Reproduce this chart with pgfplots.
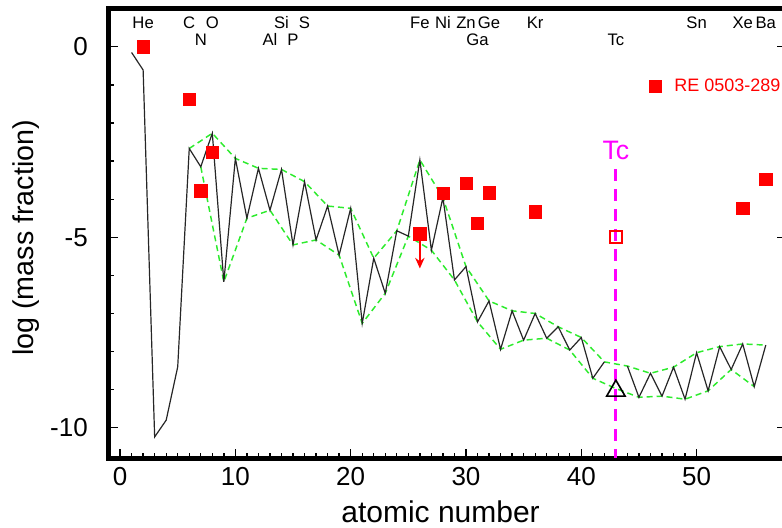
\documentclass[border=0pt]{standalone}
\usepackage{fontspec}
\setmainfont{Liberation Sans}
\usepackage{pgfplots}
\usepackage{pgfplotstable}
\pgfplotsset{compat=1.18}
\usetikzlibrary{arrows.meta}
\definecolor{mgreen}{RGB}{45,235,45}
\definecolor{mmag}{RGB}{255,0,255}
\pgfplotstableread{
Z y
1 -0.15
2 -0.61
3 -10.24
4 -9.8
5 -8.4
6 -2.67
7 -3.15
8 -2.27
9 -6.17
10 -2.93
11 -4.5
12 -3.19
13 -4.29
14 -3.22
15 -5.2
16 -3.54
17 -5.07
18 -4.18
19 -5.47
20 -4.24
21 -7.26
22 -5.55
23 -6.47
24 -4.83
25 -4.97
26 -2.97
27 -5.34
28 -3.96
29 -6.12
30 -5.77
31 -7.22
32 -6.67
33 -7.94
34 -6.93
35 -7.70
36 -7.0
37 -7.65
38 -7.35
39 -7.96
40 -7.63
41 -8.70
42 -8.27
43 nan
44 -8.38
45 -9.2
46 -8.57
47 -9.17
48 -8.41
49 -9.25
50 -8.03
51 -9.03
52 -7.87
53 -8.47
54 -7.80
55 -8.92
56 -7.83
}\modeltab
\pgfplotstableread{
Z y
6 -2.67
8 -2.27
10 -2.93
12 -3.19
14 -3.22
16 -3.54
18 -4.18
20 -4.24
22 -5.55
24 -4.83
26 -2.97
28 -3.96
30 -5.77
32 -6.67
34 -6.93
36 -7.0
38 -7.35
40 -7.63
42 -8.27
44 -8.38
46 -8.57
48 -8.41
50 -8.03
52 -7.87
54 -7.80
56 -7.83
}\upenvtab
\pgfplotstableread{
Z y
7 -3.15
9 -6.17
11 -4.5
13 -4.29
15 -5.2
17 -5.07
19 -5.47
21 -7.26
23 -6.47
25 -4.97
27 -5.34
29 -6.12
31 -7.22
33 -7.94
35 -7.70
37 -7.65
39 -7.96
41 -8.70
43 -8.97
45 -9.2
47 -9.17
49 -9.25
51 -9.03
53 -8.47
55 -8.92
}\lowenvtab
\pgfplotstableread{
Z y
2 0.0
6 -1.37
7 -3.78
8 -2.76
26 -4.91
28 -3.85
30 -3.59
31 -4.63
32 -3.83
36 -4.33
54 -4.23
56 -3.47
}\obstab
\begin{document}
\begin{tikzpicture}
\begin{axis}[
  scale only axis, width=508.5pt, height=337.2pt,
  xmin=-1, xmax=57.8, ymin=-10.8, ymax=1,
  axis line style={line width=3.5pt},
  xtick={0,10,20,30,40,50}, xticklabels={0,10,20,30,40,50},
  ytick={-10,-5,0}, yticklabels={-10,-5,0},
  minor x tick num=9, minor y tick num=4,
  xtick pos=bottom, ytick pos=both,
  tick align=inside,
  major tick length=7pt, minor tick length=3.75pt,
  every tick/.style={black, line width=1pt},
  tick label style={font=\fontsize{19.5}{20}\selectfont},
  xticklabel style={yshift=-3.5pt},
  yticklabel style={xshift=-12pt},
  xlabel={atomic number}, ylabel={log (mass fraction)},
  every axis x label/.style={at={(axis description cs:0.4897,-0.1194)}, anchor=center, font=\fontsize{22.5}{23}\selectfont},
  every axis y label/.style={at={(axis description cs:-0.121,0.49)}, anchor=center, rotate=90, font=\fontsize{21.5}{22}\selectfont},
  legend style={at={(axis cs:45.88,-1.03)}, anchor=west, draw=none, fill=none, inner sep=0pt,
    font=\fontsize{13.5}{14}\selectfont, text=red, cells={anchor=west}},
  clip=false,
]
\coordinate (ll) at (rel axis cs:0,0);
% model envelopes
\addplot[mgreen, line width=1.1pt, dash pattern=on 4.5pt off 3pt, forget plot] table[x=Z,y=y] {\upenvtab};
\addplot[mgreen, line width=1.1pt, dash pattern=on 4.5pt off 3pt, forget plot] table[x=Z,y=y] {\lowenvtab};
% model
\addplot[black!85, line width=0.9pt, unbounded coords=jump, forget plot] table[x=Z,y=y] {\modeltab};
% Tc line
\addplot[mmag, line width=2.2pt, dash pattern=on 9pt off 6pt, forget plot] coordinates {(43,-3.22) (43,-10.8)};
% Tc model value
\addplot[only marks, mark=triangle, mark size=8pt, black, mark options={line width=1.2pt}, forget plot] coordinates {(43,-9.03)};
% Fe upper limit arrow
\addplot[red, line width=1.5pt, -{Stealth[length=8pt,width=7pt]}, forget plot] coordinates {(26,-4.91) (26,-5.82)};
% Tc observed
\addplot[only marks, mark=square, mark size=4.6pt, red, mark options={line width=1.5pt}, forget plot] coordinates {(43,-5.0)};
% observed
\addplot[only marks, mark=square*, mark size=4.6pt, red, mark options={fill=red, draw=red},
  legend image code/.code={\draw[mark repeat=2,mark phase=2] plot coordinates {(0pt,0pt)(6pt,0pt)(12pt,0pt)};}]
  table[x=Z,y=y] {\obstab};
\addlegendentry{\hspace{7.5pt}RE 0503-289}
% element labels
\begin{scope}[font=\fontsize{12.5}{13}\selectfont, every node/.style={anchor=base, inner sep=0pt}]
\node at (axis cs:2,0.483) {He};
\node at (axis cs:6,0.483) {C};
\node at (axis cs:8,0.483) {O};
\node at (axis cs:14,0.483) {Si};
\node at (axis cs:16,0.483) {S};
\node at (axis cs:26,0.483) {Fe};
\node at (axis cs:28,0.483) {Ni};
\node at (axis cs:30,0.483) {Zn};
\node at (axis cs:32,0.483) {Ge};
\node at (axis cs:36,0.483) {Kr};
\node at (axis cs:50,0.483) {Sn};
\node at (axis cs:54,0.483) {Xe};
\node at (axis cs:56,0.483) {Ba};
\node at (axis cs:7,0.045) {N};
\node at (axis cs:13,0.045) {Al};
\node at (axis cs:15,0.045) {P};
\node at (axis cs:31,0.045) {Ga};
\node at (axis cs:43,0.045) {Tc};
\end{scope}
\node[anchor=base, inner sep=0pt, text=mmag, font=\fontsize{20}{21}\selectfont] at (axis cs:43,-2.955) {Tc};
\end{axis}
\pgfresetboundingbox
\path (ll) ++(-81.4pt,-52.3pt) rectangle ++(586.5pt,396pt);
\end{tikzpicture}
\end{document}
